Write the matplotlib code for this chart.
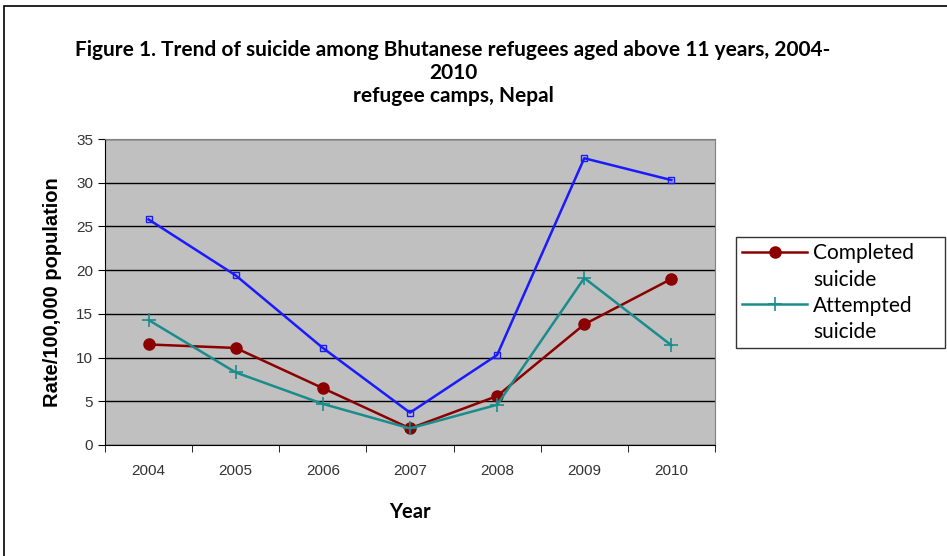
import matplotlib.pyplot as plt
import matplotlib.patches as patches
from matplotlib.lines import Line2D
import numpy as np

years = ["2004", "2005", "2006", "2007", "2008", "2009", "2010"]
completed = [11.5, 11.1, 6.5, 1.9, 5.6, 13.8, 19.0]
attempted = [14.3, 8.3, 4.7, 1.9, 4.6, 19.1, 11.4]
total = [25.8, 19.4, 11.1, 3.7, 10.3, 32.8, 30.3]
yticks = [0, 5, 10, 15, 20, 25, 30, 35]

narrow = ["Lato", "DejaVu Sans"]
plt.rcParams['font.family'] = ["Liberation Sans", "DejaVu Sans"]

fig = plt.figure(figsize=(9.47, 5.56), dpi=100)
fig.patches.append(patches.Rectangle((4 / 947, -0.01), 1.0, 1 - 6 / 556 + 0.01,
                                     transform=fig.transFigure, fill=False,
                                     edgecolor="black", linewidth=1.2))

ax = fig.add_axes([105 / 947, 1 - 445 / 556, 610 / 947, 306 / 556])
ax.set_facecolor("#c0c0c0")
x = np.arange(len(years))

ax.plot(x, total, color="#1a1aff", linewidth=1.8, marker="s", markersize=4,
        markerfacecolor="none", markeredgewidth=1)
l1, = ax.plot(x, completed, color="#8b0000", linewidth=1.8, marker="o", markersize=8)
l2, = ax.plot(x, attempted, color="#1a8c8c", linewidth=1.8, marker="+", markersize=10,
              markeredgewidth=1.2)

ax.set_xlim(-0.5, len(years) - 0.5)
ax.set_ylim(0, 35)
ax.set_yticks(yticks)
ax.yaxis.grid(True, color="black", linewidth=1)
ax.set_axisbelow(True)

ax.set_xticks(x)
ax.set_xticklabels(years, fontsize=11, color="#333333")
ax.set_xticks(np.arange(-0.5, len(years)), minor=True)
ax.tick_params(axis="x", which="major", length=0, pad=14)
ax.tick_params(axis="x", which="minor", length=5, direction="out")
ax.tick_params(axis="y", labelsize=11, labelcolor="#333333", length=5, direction="out")

for s in ["top", "right"]:
    ax.spines[s].set_color("#808080")
ax.spines["left"].set_color("black")
ax.spines["bottom"].set_color("black")

ax.set_ylabel("Rate/100,000 population", fontsize=14.5, fontweight="bold",
              labelpad=10)
ax.set_xlabel("Year", fontsize=14.5, fontweight="bold", family=narrow, labelpad=17)

fig.text(453 / 947, 1 - 73 / 556,
         "Figure 1. Trend of suicide among Bhutanese refugees aged above 11 years, 2004-\n2010\nrefugee camps, Nepal",
         ha="center", va="center", fontsize=15, fontweight="bold", family=narrow,
         linespacing=1.2)

# legend labels wrap onto a second line, handle sits on the first line
blank = Line2D([], [], linestyle="none")
leg = fig.legend([l1, blank, l2, blank],
                 ["Completed", "suicide", "Attempted", "suicide"],
                 loc="upper left",
                 bbox_to_anchor=(736 / 947, 1 - 345 / 556, 209 / 947, 108 / 556),
                 mode="expand",
                 prop={"family": narrow, "size": 15}, frameon=True, fancybox=False,
                 edgecolor="black", handlelength=3.1, handletextpad=0.3,
                 borderpad=0.3, borderaxespad=0, labelspacing=0.3)
leg.get_frame().set_linewidth(1)

fig.savefig("out.png", dpi=100)
